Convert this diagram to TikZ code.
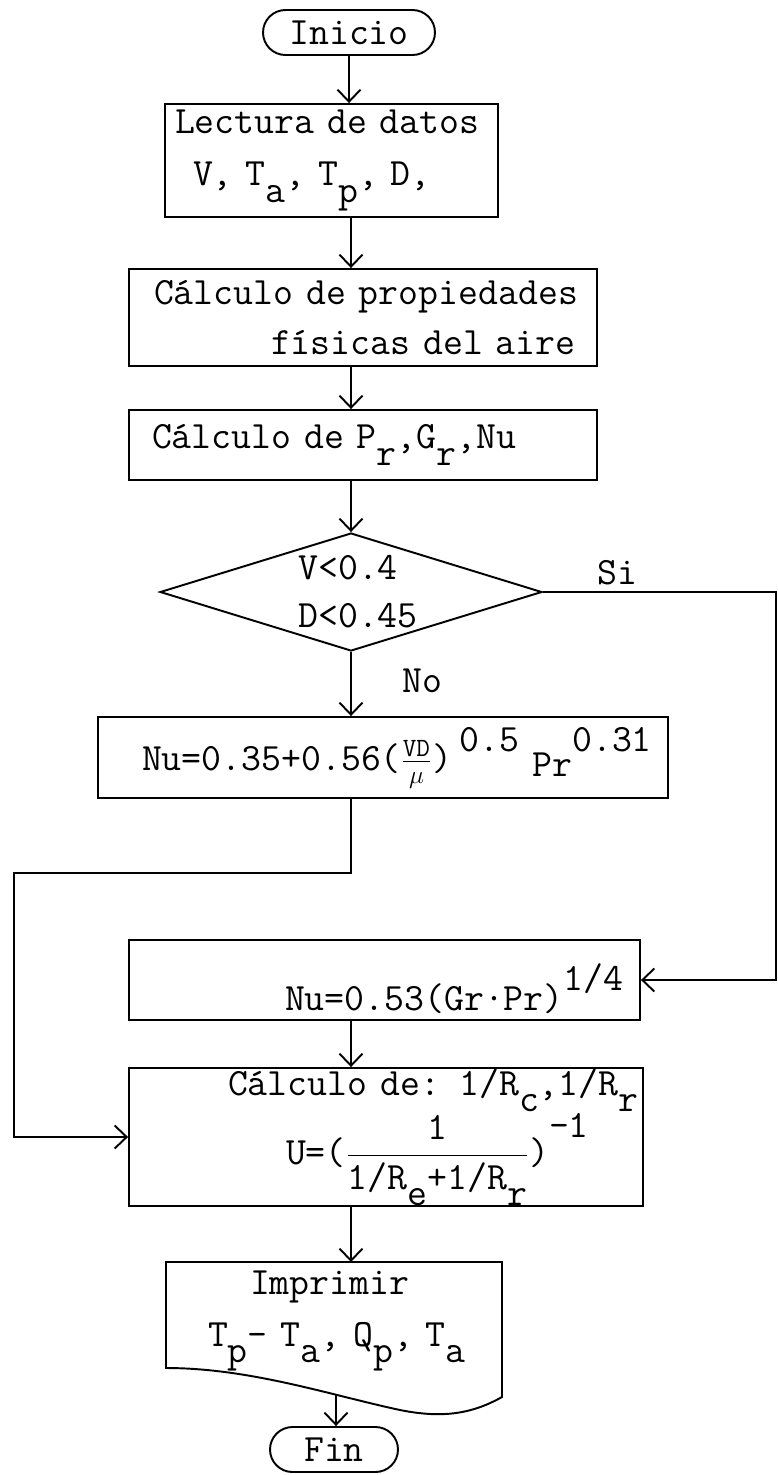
\documentclass[tikz,border=0pt]{standalone}
\usepackage{amsmath}
\usepackage{fontspec}
\usetikzlibrary{arrows.meta,shapes.geometric,shapes.misc}
\tikzset{
  proc/.style={draw,line width=1.1pt,rectangle,align=left,inner xsep=0.2cm,inner ysep=0pt},
  term/.style={draw,line width=1.1pt,rounded rectangle,inner sep=0pt},
  deci/.style={draw,line width=1.1pt,diamond,aspect=3.2,inner sep=0pt,align=left},
  flow/.style={line width=1.1pt,-{Straight Barb[length=2.4mm,width=4.6mm]}},
  wire/.style={line width=1.1pt}
}
\newcommand{\lo}[1]{\raisebox{-0.42em}{#1}}
\newcommand{\hi}[1]{\raisebox{0.5em}{#1}}
\newcommand{\frc}[1]{\text{\fontsize{15}{15}\selectfont #1}}

\begin{document}
\begin{tikzpicture}[x=0.02cm,y=-0.02cm,font=\ttfamily\fontsize{22}{26}\selectfont]
\useasboundingbox (0,0) rectangle (778,1475);
\coordinate (spine) at (351,0);
\coordinate (rt) at (776,0);
\coordinate (lp) at (14,873);
\coordinate (doct) at (351,1262);
\coordinate (docb) at (336,1394);

\node[term,minimum width=3.44cm,minimum height=0.9cm] (inicio) at (349,32.5) {Inicio};
\node[proc,text width=6.26cm,minimum height=2.26cm] (lect) at (331.5,160.5)
  {\mbox{Lectura de datos}\\[3.6pt]\hspace*{0.36cm}V, T\lo{a}, T\lo{p}, D,};
\node[proc,text width=8.96cm,minimum height=1.94cm] (prop) at (363,317.5)
  {\hspace*{0.3cm}\mbox{Cálculo de propiedades}\\[2.5pt]\hspace*{2.64cm}\mbox{físicas del aire}};
\node[proc,text width=8.96cm,minimum height=1.4cm] (calc) at (363,445)
  {\hspace*{0.26cm}\mbox{Cálculo de P\lo{r},G\lo{r},Nu}};
\node[deci,minimum width=7.64cm,minimum height=2.36cm] (dec) at (351,592)
  {\hspace*{0.28cm}V<0.4\\[1.3pt]\hspace*{0.28cm}D<0.45};
\node[proc,text width=11cm,minimum height=1.62cm] (nu1) at (383,757.5)
  {\hspace*{0.68cm}\mbox{Nu=0.35+0.56(\(\genfrac{}{}{0.6pt}{1}{\frc{VD}}{\frc{\(\mu\)}}\))\hspace{0.2em}\hi{0.5} \raisebox{-0.15em}{Pr}\hi{0.31}}};
\node[proc,text width=9.82cm,minimum height=1.6cm] (nu2) at (384.5,980)
  {\raisebox{-0.6cm}[0pt][0pt]{\hspace*{2.92cm}Nu=0.53(Gr·Pr)\hi{1/4}}};
\node[proc,text width=9.88cm,minimum height=2.76cm] (calc2) at (386,1137)
  {\hspace*{1.78cm}\mbox{Cálculo de: 1/R\lo{c},1/R\lo{r}}\\[0pt]\hspace*{2.94cm}\mbox{U=(\(\dfrac{\text{1}}{\text{1/R\lo{e}+1/R\lo{r}}}\))\raisebox{0.7em}{-1}}};
\node[align=left,text width=6.32cm,inner xsep=0.2cm] (doc) at (334,1321)
  {\hspace*{1.48cm}Imprimir\\[3.6pt]\hspace*{0.64cm}\mbox{T\lo{p}- T\lo{a}, Q\lo{p}, T\lo{a}}};
\node[term,minimum width=2.56cm,minimum height=0.9cm] (fin) at (334,1449.5) {Fin};

\draw[wire] (166,1262) -- (502,1262) -- (502,1397)
  .. controls (470,1415) and (440,1418) .. (400,1410)
  .. controls (330,1395) and (250,1368) .. (166,1368) -- cycle;

\draw[flow] (inicio.south) -- (inicio.south |- lect.north);
\draw[flow] (spine |- lect.south) -- (spine |- prop.north);
\draw[flow] (spine |- prop.south) -- (spine |- calc.north);
\draw[flow] (spine |- calc.south) -- (dec.north);
\draw[flow] (dec.south) -- (spine |- nu1.north) node[pos=0.45,right=0.9cm] (no) {No};
\draw[flow] (dec.east) -- (dec.east -| rt) node[pos=0.32,above] (si) {Si} |- (nu2.east);
\draw[flow] (spine |- nu1.south) -- (spine |- lp) -- (lp) |- (calc2.west);
\draw[flow] (spine |- nu2.south) -- (spine |- calc2.north);
\draw[flow] (spine |- calc2.south) -- (doct);
\draw[flow] (docb) -- (docb |- fin.north);
\end{tikzpicture}
\end{document}
